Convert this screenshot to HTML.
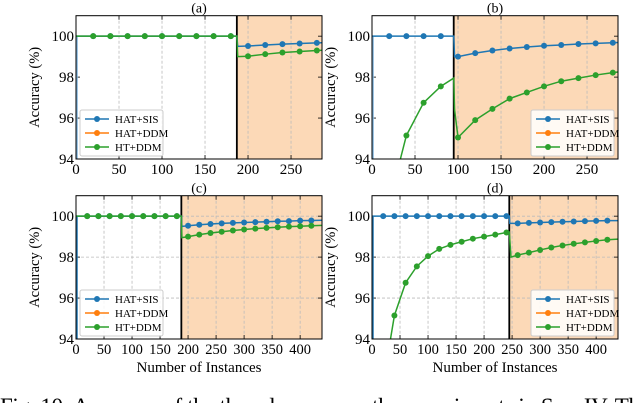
<!DOCTYPE html>
<html><head><meta charset="utf-8"><style>
body{margin:0;background:#fff;width:640px;height:403px;overflow:hidden;font-family:"Liberation Serif",serif}
svg{display:block}
</style></head><body>
<svg id="c" width="640" height="403" viewBox="0 0 640 403" font-family="Liberation Serif, serif"></svg>
<script>
const legendLabels=["HAT+SIS","HAT+DDM","HT+DDM"];
const aSisX=[0,20,40,60,80,100,120,140,160,180,187,188,200,220,240,260,280,286];
const aSisY=[100,100,100,100,100,100,100,100,100,100,100,99.5,99.52,99.57,99.61,99.64,99.67,99.68];
const aHtX=[0,20,40,60,80,100,120,140,160,180,187,188,200,220,240,260,280,286];
const aHtY=[100,100,100,100,100,100,100,100,100,100,100,99.0,99.02,99.12,99.2,99.25,99.3,99.31];
const bSisX=[0,20,40,60,80,95,96,100,120,140,160,180,200,220,240,260,280,286];
const bSisY=[100,100,100,100,100,100,99.0,99.0,99.17,99.3,99.4,99.47,99.53,99.57,99.62,99.65,99.68,99.69];
const bHtX=[33,40,60,80,95,96,100,120,140,160,180,200,220,240,260,280,286];
const bHtY=[94,95.15,96.75,97.55,97.95,96.4,95.05,95.9,96.45,96.95,97.25,97.55,97.8,97.95,98.1,98.22,98.25];
const cSisX=[0,20,40,60,80,100,120,140,160,180,188,189,200,220,240,260,280,300,320,340,360,380,400,420,439];
const cSisY=[100,100,100,100,100,100,100,100,100,100,100,99.5,99.53,99.58,99.62,99.65,99.67,99.69,99.71,99.73,99.75,99.76,99.78,99.79,99.8];
const cHtX=[0,20,40,60,80,100,120,140,160,180,188,189,200,220,240,260,280,300,320,340,360,380,400,420,439];
const cHtY=[100,100,100,100,100,100,100,100,100,100,100,98.95,99.0,99.1,99.18,99.24,99.3,99.35,99.39,99.43,99.46,99.49,99.51,99.53,99.55];
const dSisX=[0,20,40,60,80,100,120,140,160,180,200,220,240,245,246,260,280,300,320,340,360,380,400,420,439];
const dSisY=[100,100,100,100,100,100,100,100,100,100,100,100,100,100,99.65,99.65,99.67,99.69,99.71,99.73,99.74,99.76,99.77,99.78,99.78];
const dHtX=[33,40,60,80,100,120,140,160,180,200,220,240,245,248,260,280,300,320,340,360,380,400,420,439];
const dHtY=[94,95.15,96.75,97.55,98.05,98.4,98.6,98.75,98.9,99.0,99.1,99.2,99.22,98.0,98.1,98.22,98.35,98.47,98.57,98.65,98.72,98.79,98.85,98.88];
const yTicks=[94,96,98,100];
const abXTicks=[0,50,100,150,200,250];
const cdXTicks=[0,50,100,150,200,250,300,350,400];
const driftAt=[187,95,188,245];
const xMaxes=[286,286,439,439];
const titles=["(a)","(b)","(c)","(d)"];
const legendPos=["left","right","left","right"];

const NS="http://www.w3.org/2000/svg";
const svg=document.getElementById('c');
function mk(t,a,p){const e=document.createElementNS(NS,t);for(const k in a)e.setAttribute(k,a[k]);(p||svg).appendChild(e);return e;}
const BLUE="#1f77b4",ORANGE="#ff7f0e",GREEN="#2ca02c";
const panels=[
 {L:76,R:322,T:15.7,B:159,sx:aSisX,sy:aSisY,hx:aHtX,hy:aHtY,xt:abXTicks,hgrid:false},
 {L:372,R:618,T:15.7,B:159,sx:bSisX,sy:bSisY,hx:bHtX,hy:bHtY,xt:abXTicks,hgrid:false},
 {L:76,R:322,T:195.7,B:339,sx:cSisX,sy:cSisY,hx:cHtX,hy:cHtY,xt:cdXTicks,hgrid:true},
 {L:372,R:618,T:195.7,B:339,sx:dSisX,sy:dSisY,hx:dHtX,hy:dHtY,xt:cdXTicks,hgrid:true}];
panels.forEach((p,i)=>{
 const g=mk('g',{});
 
 
 const X=v=>p.L+(v/xMaxes[i])*(p.R-p.L);
 const Y=v=>p.B-(v-94)/7*(p.B-p.T);
 const fs=i<2?15:14.5;
 mk('rect',{x:p.L,y:p.T,width:p.R-p.L,height:p.B-p.T,fill:'#fff'},g);
 const sh=mk('rect',{x:X(driftAt[i]),y:p.T,width:p.R-X(driftAt[i]),height:p.B-p.T,fill:'#fcd9b7'},g);
 
 
 p.xt.forEach(t=>{if(t>0)mk('line',{x1:X(t),x2:X(t),y1:p.T,y2:p.B,stroke:'#bbb','stroke-width':0.8,'stroke-dasharray':'3,2'},g);
  mk('line',{x1:X(t),x2:X(t),y1:p.B,y2:p.B-4,stroke:'#000','stroke-width':0.8},g);
  mk('line',{x1:X(t),x2:X(t),y1:p.T,y2:p.T+4,stroke:'#000','stroke-width':0.8},g);
  const tx=mk('text',{x:X(t),y:p.B+15,'font-size':fs,'text-anchor':'middle'},g);tx.textContent=t;
  
  });
 yTicks.forEach(t=>{if(p.hgrid&&t>94&&t<100.5)mk('line',{x1:p.L,x2:p.R,y1:Y(t),y2:Y(t),stroke:'#bbb','stroke-width':0.8,'stroke-dasharray':'3,2'},g);
  mk('line',{x1:p.L,x2:p.L+4,y1:Y(t),y2:Y(t),stroke:'#000','stroke-width':0.8},g);
  mk('line',{x1:p.R,x2:p.R-4,y1:Y(t),y2:Y(t),stroke:'#000','stroke-width':0.8},g);
  const tx=mk('text',{x:p.L-2,y:Y(t)+5,'font-size':15,'text-anchor':'end'},g);tx.textContent=t;
  
  });
 mk('line',{x1:X(driftAt[i]),x2:X(driftAt[i]),y1:p.T,y2:p.B,stroke:'#000','stroke-width':1.8},g);
 mk('line',{x1:X(0)+1,x2:X(0)+1,y1:p.B,y2:Y(100),stroke:i<2?'#7fb3dc':BLUE,'stroke-width':1.5},g);
 const cp=mk('clipPath',{id:'cp'+i},g);mk('rect',{x:p.L,y:p.T,width:p.R-p.L,height:p.B-p.T},cp);
 const sg=mk('g',{'clip-path':'url(#cp'+i+')'},g);
 function series(xs,ys,col,name){
  const ln=mk('polyline',{points:xs.map((x,j)=>X(x)+','+Y(ys[j])).join(' '),fill:'none',stroke:col,'stroke-width':1.5},sg);
  
  
  xs.forEach((x,j)=>{if(x%20===0&&x>0&&x<xMaxes[i]-3){const m=mk('circle',{cx:X(x),cy:Y(ys[j]),r:3,fill:col},sg);
   
   }});
 }
 series(p.sx,p.sy,BLUE,'hat-sis');
 series(p.hx,p.hy,GREEN,'ht-ddm');
 mk('rect',{x:p.L,y:p.T,width:p.R-p.L,height:p.B-p.T,fill:'none',stroke:'#000','stroke-width':1},g);
 const tt=mk('text',{x:(p.L+p.R)/2,y:p.T-3,'font-size':14,'text-anchor':'middle'},g);tt.textContent=titles[i];
 
 
 const yl=mk('text',{x:0,y:0,'font-size':14.5,'text-anchor':'middle',transform:`translate(${p.L-37},${(p.T+p.B)/2}) rotate(-90)`},g);yl.textContent='Accuracy (%)';
 
 
 if(i>=2){const xl=mk('text',{x:(p.L+p.R)/2,y:p.B+33,'font-size':15,'text-anchor':'middle'},g);xl.textContent='Number of Instances';
  
  }
 const lx=legendPos[i]==='left'?p.L+4:p.R-87, ly=p.B-49;
 const lg=mk('g',{},g);
 
 
 mk('rect',{x:lx,y:ly,width:83,height:46,rx:2,fill:'#fff','fill-opacity':0.85,stroke:'#ccc'},lg);
 [BLUE,ORANGE,GREEN].forEach((c,k)=>{const yy=ly+9+k*14;
  mk('line',{x1:lx+5,x2:lx+29,y1:yy,y2:yy,stroke:c,'stroke-width':1.5},lg);
  mk('circle',{cx:lx+17,cy:yy,r:3,fill:c},lg);
  const t=mk('text',{x:lx+35,y:yy+4,'font-size':11},lg);t.textContent=legendLabels[k];
  
  });
});
const cap=mk('text',{x:0,y:414,'font-size':23,textLength:640,lengthAdjust:'spacing'});
cap.textContent='Fig. 10: Accuracy of the three learners on the experiments in Sec. IV. Th';


</script>
</body></html>
